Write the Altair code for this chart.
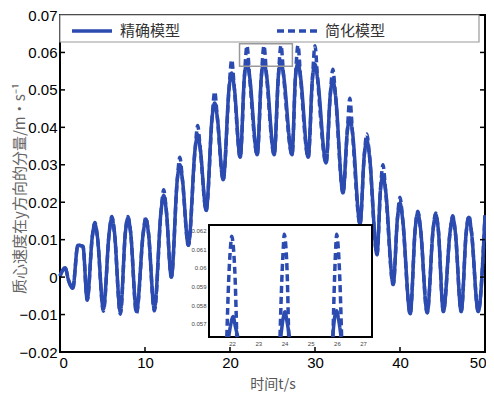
import altair as alt
import pandas as pd

# ---------------- data ----------------
t_pts = [0.0, 0.6, 1.0, 1.5, 2.1, 2.7, 3.2,
         3.8, 4.1, 4.4, 5.1,
         5.8, 6.1, 6.4, 7.1,
         7.7, 8.0, 8.3, 9.0,
         9.8, 10.1, 10.4, 11.1,
         11.9, 12.2, 12.5, 13.1,
         13.8, 14.1, 14.4, 15.1,
         15.9, 16.2, 16.5, 17.2,
         17.9, 18.2, 18.5, 19.2,
         19.9, 20.2, 20.5, 21.2,
         21.7, 22.0, 22.3, 23.2,
         23.7, 24.0, 24.3, 25.2,
         25.7, 26.0, 26.3, 27.3,
         27.7, 28.0, 28.3, 29.2,
         29.7, 30.0, 30.3, 31.3,
         31.8, 32.1, 32.4, 33.3,
         33.8, 34.1, 34.4, 35.3,
         35.8, 36.1, 36.4, 37.3,
         37.7, 38.0, 38.3, 39.2,
         39.7, 40.0, 40.3, 41.2,
         41.8, 42.1, 42.4, 43.2,
         43.9, 44.2, 44.5, 45.1,
         45.9, 46.2, 46.5, 47.2,
         47.8, 48.1, 48.4, 49.2,
         50.0]

exact_pts = [0.0003, 0.0025, -0.0008, -0.0030, 0.0085, 0.0082, -0.0060,
             0.0108, 0.0142, 0.0108, -0.0085,
             0.0121, 0.0158, 0.0121, -0.0093,
             0.0121, 0.0158, 0.0121, -0.0092,
             0.0119, 0.0155, 0.0119, -0.0085,
             0.0179, 0.0218, 0.0179, 0.0000,
             0.0261, 0.0300, 0.0261, 0.0085,
             0.0343, 0.0380, 0.0343, 0.0178,
             0.0428, 0.0465, 0.0428, 0.0260,
             0.0507, 0.0545, 0.0507, 0.0320,
             0.0537, 0.0574, 0.0537, 0.0327,
             0.0539, 0.0576, 0.0539, 0.0327,
             0.0540, 0.0577, 0.0540, 0.0327,
             0.0534, 0.0571, 0.0534, 0.0320,
             0.0531, 0.0568, 0.0531, 0.0305,
             0.0488, 0.0527, 0.0488, 0.0225,
             0.0389, 0.0425, 0.0389, 0.0142,
             0.0326, 0.0365, 0.0326, 0.0060,
             0.0233, 0.0270, 0.0233, -0.0020,
             0.0157, 0.0198, 0.0157, -0.0098,
             0.0132, 0.0172, 0.0132, -0.0095,
             0.0128, 0.0167, 0.0128, -0.0092,
             0.0122, 0.0160, 0.0122, -0.0092,
             0.0122, 0.0160, 0.0122, -0.0092,
             0.0165]

simpl_pts = [0.0003, 0.0025, -0.0008, -0.0030, 0.0085, 0.0082, -0.0062,
             0.0108, 0.0146, 0.0108, -0.0091,
             0.0121, 0.0162, 0.0121, -0.0099,
             0.0121, 0.0162, 0.0121, -0.0097,
             0.0119, 0.0159, 0.0119, -0.0090,
             0.0179, 0.0233, 0.0179, 0.0000,
             0.0261, 0.0320, 0.0261, 0.0085,
             0.0343, 0.0405, 0.0343, 0.0178,
             0.0428, 0.0495, 0.0428, 0.0260,
             0.0507, 0.0580, 0.0507, 0.0320,
             0.0537, 0.0618, 0.0537, 0.0327,
             0.0539, 0.0618, 0.0539, 0.0327,
             0.0540, 0.0619, 0.0540, 0.0327,
             0.0534, 0.0619, 0.0534, 0.0320,
             0.0531, 0.0618, 0.0531, 0.0305,
             0.0488, 0.0555, 0.0488, 0.0225,
             0.0389, 0.0478, 0.0389, 0.0142,
             0.0326, 0.0382, 0.0326, 0.0060,
             0.0233, 0.0300, 0.0233, -0.0020,
             0.0157, 0.0213, 0.0157, -0.0098,
             0.0132, 0.0176, 0.0132, -0.0095,
             0.0128, 0.0171, 0.0128, -0.0092,
             0.0122, 0.0164, 0.0122, -0.0092,
             0.0122, 0.0164, 0.0122, -0.0092,
             0.0165]

models = ["精确模型", "简化模型"]

x_ticks = [0, 10, 20, 30, 40, 50]
y_ticks = [-0.02, -0.01, 0, 0.01, 0.02, 0.03, 0.04, 0.05, 0.06, 0.07]

# inset (zoomed view)
inset_x_dom = [21.12, 27.34]
inset_y_dom = [0.0563, 0.0623]
inset_x_ticks = [22, 23, 24, 25, 26, 27]
inset_y_ticks = [0.057, 0.058, 0.059, 0.060, 0.061, 0.062]

ins_simpl_t1 = [21.80, 21.87, 21.94, 21.99, 22.05, 22.12, 22.18]
ins_simpl_v1 = [0.0563, 0.0593, 0.0611, 0.0617, 0.0611, 0.0593, 0.0563]
ins_simpl_t2 = [23.83, 23.90, 23.96, 23.99, 24.05, 24.11, 24.16]
ins_simpl_v2 = [0.0563, 0.0594, 0.0612, 0.0618, 0.0612, 0.0594, 0.0563]
ins_simpl_t3 = [25.85, 25.91, 25.96, 25.99, 26.04, 26.11, 26.18]
ins_simpl_v3 = [0.0563, 0.0594, 0.0612, 0.0618, 0.0613, 0.0595, 0.0563]
ins_exact_t1 = [21.87, 21.97, 22.04, 22.12, 22.22]
ins_exact_v1 = [0.0563, 0.0571, 0.0574, 0.0569, 0.0563]
ins_exact_t2 = [23.86, 23.95, 24.02, 24.10, 24.19]
ins_exact_v2 = [0.0563, 0.0573, 0.05765, 0.0571, 0.0563]
ins_exact_t3 = [25.84, 25.92, 25.99, 26.07, 26.16]
ins_exact_v3 = [0.0563, 0.0574, 0.0577, 0.0572, 0.0563]

# ---------------- tables ----------------
n = len(t_pts)
df = pd.DataFrame({
    "t": t_pts + t_pts,
    "v": exact_pts + simpl_pts,
    "model": [models[0]] * n + [models[1]] * n,
})

rows = []
for seg, (ts, vs, m) in enumerate([
    (ins_exact_t1, ins_exact_v1, models[0]), (ins_exact_t2, ins_exact_v2, models[0]),
    (ins_exact_t3, ins_exact_v3, models[0]), (ins_simpl_t1, ins_simpl_v1, models[1]),
    (ins_simpl_t2, ins_simpl_v2, models[1]), (ins_simpl_t3, ins_simpl_v3, models[1])]):
    for a, b in zip(ts, vs):
        rows.append({"t": a, "v": b, "model": m, "seg": seg})
df_in = pd.DataFrame(rows)

df_box = pd.DataFrame({"t": [inset_x_dom[0]], "t2": [inset_x_dom[1]],
                       "v": [inset_y_dom[0]], "v2": [inset_y_dom[1]]})
df_xt = pd.DataFrame({"t": x_ticks[1:-1]})
df_yt = pd.DataFrame({"v": y_ticks[1:-1]})
one = pd.DataFrame({"a": [0]})

# ---------------- layout ----------------
W, H = 425, 337
blue = "#2c4bb0"
cjk = "Noto Sans CJK SC"
latin = "Liberation Sans"
IX0, IX1, IY0, IY1 = 149, 312, 210, 322   # inset frame in plot pixels

xs = alt.Scale(domain=[0, 50], nice=False, zero=False)
ys = alt.Scale(domain=[-0.02, 0.07], nice=False, zero=False)
dash_scale = alt.Scale(domain=models, range=[[1, 0], [7, 4]])

ax_x = alt.Axis(
    values=x_ticks, ticks=False, domain=False, grid=False,
    labelFont=latin, labelFontSize=15, labelColor="black", labelPadding=3,
    labelFlush=True, labelFlushOffset=1,
    title="时间t/s", titleFont=cjk, titleFontSize=14, titleFontWeight="normal",
    titleColor="#555", titleY=32, titleBaseline="middle")
ax_y = alt.Axis(
    values=y_ticks, ticks=False, domain=False, grid=False,
    labelExpr="datum.value == 0 ? '0' : format(datum.value, '.2f')",
    labelFont=latin, labelFontSize=15, labelColor="black", labelPadding=3,
    title="质心速度在y方向的分量/m·s⁻¹", titleFont=cjk, titleFontSize=15,
    titleFontWeight="normal", titleColor="#666", titleX=-41, titleY=173,
    titleBaseline="middle", titleAlign="center")

X = lambda f: alt.X(f, scale=xs, axis=ax_x, title="时间t/s")
Y = lambda f: alt.Y(f, scale=ys, axis=ax_y, title="质心速度在y方向的分量/m·s⁻¹")

lines = alt.Chart(df).mark_line(color=blue, strokeWidth=3.5, interpolate="monotone").encode(
    x=X("t:Q"), y=Y("v:Q"),
    strokeDash=alt.StrokeDash("model:N", scale=dash_scale, sort=models, legend=alt.Legend(
        title=None, orient="none", legendX=10, legendY=-6, direction="horizontal",
        columns=2, columnPadding=89, symbolType="stroke", symbolSize=1600,
        symbolStrokeWidth=3.5, symbolStrokeColor=blue, labelOffset=6, padding=0,
        labelFont=cjk, labelFontSize=15, labelColor="#333")),
)

legend_box = alt.Chart(one).mark_rect(fill="white", stroke="#999", strokeWidth=1.2).encode(
    x=alt.value(0), x2=alt.value(419), y=alt.value(0), y2=alt.value(27))

zoom_rect = alt.Chart(df_box).mark_rect(fill="white", fillOpacity=0, stroke="#999",
                                        strokeWidth=1.5).encode(
    x=X("t:Q"), x2="t2", y=Y("v:Q"), y2="v2")

tick_b = alt.Chart(df_xt).mark_rule(color="black", strokeWidth=1.5).encode(
    x=X("t:Q"), y=alt.value(H), y2=alt.value(H - 5))
tick_l = alt.Chart(df_yt).mark_rule(color="black", strokeWidth=1.5).encode(
    y=Y("v:Q"), x=alt.value(0), x2=alt.value(5))
tick_r = alt.Chart(df_yt).mark_rule(color="black", strokeWidth=1.5).encode(
    y=Y("v:Q"), x=alt.value(W), x2=alt.value(W - 5))

main = alt.layer(lines, zoom_rect, tick_b, tick_l, tick_r, legend_box)

ixs = alt.Scale(domain=inset_x_dom, range=[IX0, IX1], nice=False, zero=False)
iys = alt.Scale(domain=inset_y_dom, range=[IY1, IY0], nice=False, zero=False)
iax_x = alt.Axis(
    orient="bottom", offset=-(H - IY1), values=inset_x_ticks, ticks=False,
    domain=False, grid=False, labelFont=latin, labelFontSize=6,
    labelColor="#444", labelPadding=3, title=None)
iax_y = alt.Axis(
    orient="left", offset=-IX0, values=inset_y_ticks, ticks=False,
    domain=False, grid=False, labelExpr="format(datum.value, '~g')",
    labelFont=latin, labelFontSize=6, labelColor="#444", labelPadding=3,
    title=None)

inset_frame = alt.Chart(df_box).mark_rect(fill="white", stroke="black", strokeWidth=2).encode(
    x=alt.X("t:Q", scale=ixs, axis=iax_x), x2="t2",
    y=alt.Y("v:Q", scale=iys, axis=iax_y), y2="v2")

inset_lines = alt.Chart(df_in).mark_line(color=blue, strokeWidth=3.5,
                                         interpolate="monotone").encode(
    x=alt.X("t:Q", scale=ixs, axis=iax_x),
    y=alt.Y("v:Q", scale=iys, axis=iax_y),
    strokeDash=alt.StrokeDash("model:N", scale=dash_scale, sort=models, legend=None),
    detail="seg:N",
)

inset = alt.layer(inset_frame, inset_lines)

chart = alt.layer(main, inset).resolve_scale(
    x="independent", y="independent"
).properties(
    width=W, height=H,
    autosize=alt.AutoSizeParams(type="none"),
    padding={"left": 52, "top": 7, "right": 1, "bottom": 42},
).configure_view(stroke="black", strokeWidth=2)

chart.save("out.html", embed_options={"renderer": "svg", "actions": False})
